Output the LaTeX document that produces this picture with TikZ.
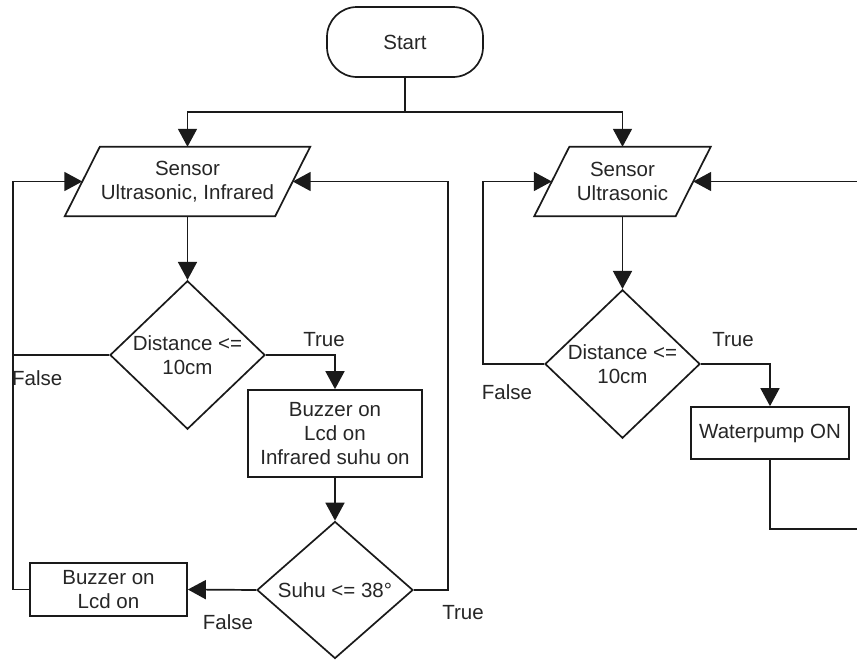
\documentclass[tikz,border=0pt]{standalone}
\usepackage{fontspec}
\setmainfont{Liberation Sans}
\usetikzlibrary{shapes.geometric,arrows.meta}
\definecolor{ln}{HTML}{1A1A1A}
\definecolor{tx}{HTML}{262626}
\begin{document}
\begin{tikzpicture}[x=1pt,y=-1pt,
  every node/.style={font=\fontsize{20.5}{24}\selectfont, text=tx},
  line/.style={draw=ln, line width=1.7pt},
  arr/.style={line, -{Triangle[length=18pt,width=19pt]}},
  term/.style={draw=ln, line width=1.7pt, rounded corners=30pt, minimum width=156pt, minimum height=70pt, inner sep=0pt},
  proc/.style={draw=ln, line width=1.7pt, rectangle, align=center, inner sep=0pt},
  dec/.style={draw=ln, line width=1.7pt, diamond, inner sep=0pt, align=center},
  io/.style={align=center, inner sep=0pt, minimum height=69pt},
  lbl/.style={inner sep=0pt}]
\useasboundingbox (0,0) rectangle (857,659);
\clip (0,0) rectangle (857,659);
\fill[white] (0,0) rectangle (857,659);

% nodes
\node[term] (start) at (405,42) {Start};
\node[io, minimum width=210pt] (p1) at (187.5,181.5) {Sensor\\Ultrasonic, Infrared};
\node[io, minimum width=141pt] (p2) at (622.5,181.5) {Sensor\\Ultrasonic};
\node[dec, minimum width=155pt, minimum height=137pt] (d1) at (187.5,355) {Distance <=\\10cm};
\node[proc, minimum width=174pt, minimum height=87pt] (b1) at (335,433.5) {Buzzer on\\Lcd on\\Infrared suhu on};
\node[dec, minimum width=156pt, minimum height=137pt] (d2) at (335,590) {Suhu <= 38°};
\node[proc, minimum width=157pt, minimum height=53pt] (b2) at (108.5,589.5) {Buzzer on\\Lcd on};
\node[dec, minimum width=155pt, minimum height=138pt] (d3) at (622.5,364) {Distance <=\\10cm};
\node[proc, minimum width=158pt, minimum height=52pt] (b3) at (770,433) {Waterpump ON};

% parallelogram outlines
\draw[line] ([xshift=17.5pt]p1.north west) -- ([xshift=17.5pt]p1.north east)
  -- ([xshift=-17.5pt]p1.south east) -- ([xshift=-17.5pt]p1.south west) -- cycle;
\draw[line] ([xshift=17.5pt]p2.north west) -- ([xshift=17.5pt]p2.north east)
  -- ([xshift=-17.5pt]p2.south east) -- ([xshift=-17.5pt]p2.south west) -- cycle;

% helper coordinates
\coordinate (J) at (405,112);
\coordinate (L) at (13,0);
\coordinate (R) at (448,0);
\coordinate (R3) at (483,0);
\coordinate (K) at (880,529);

% connectors
\draw[line] (start.south) -- (J);
\draw[arr] (J) -| (p1.north);
\draw[arr] (J) -| (p2.north);
\draw[arr] (p1.south) -- (d1.north);
\draw[arr] (d1.west) -- (d1.west -| L) |- (p1.west);
\draw[arr] (d1.east) -| (b1.north);
\draw[arr] (b1.south) -- (d2.north);
\draw[arr] (d2.west) -- (b2.east);
\draw[line] (b2.west) -- (b2.west -| L) -- (d1.west -| L);
\draw[arr] (d2.east) -- (d2.east -| R) |- (p1.east);
\draw[arr] (p2.south) -- (d3.north);
\draw[arr] (d3.west) -- (d3.west -| R3) |- (p2.west);
\draw[arr] (d3.east) -| (b3.north);
\draw[arr] (b3.south) |- (K) |- (p2.east);

% labels
\node[lbl] (t1) at (324,340) {True};
\node[lbl, anchor=west] (f1) at (12,378) {False};
\node[lbl] (f2) at (228,622) {False};
\node[lbl] (t2) at (463,613) {True};
\node[lbl] (f3) at (507,392) {False};
\node[lbl] (t3) at (733,340) {True};
\end{tikzpicture}
\end{document}
